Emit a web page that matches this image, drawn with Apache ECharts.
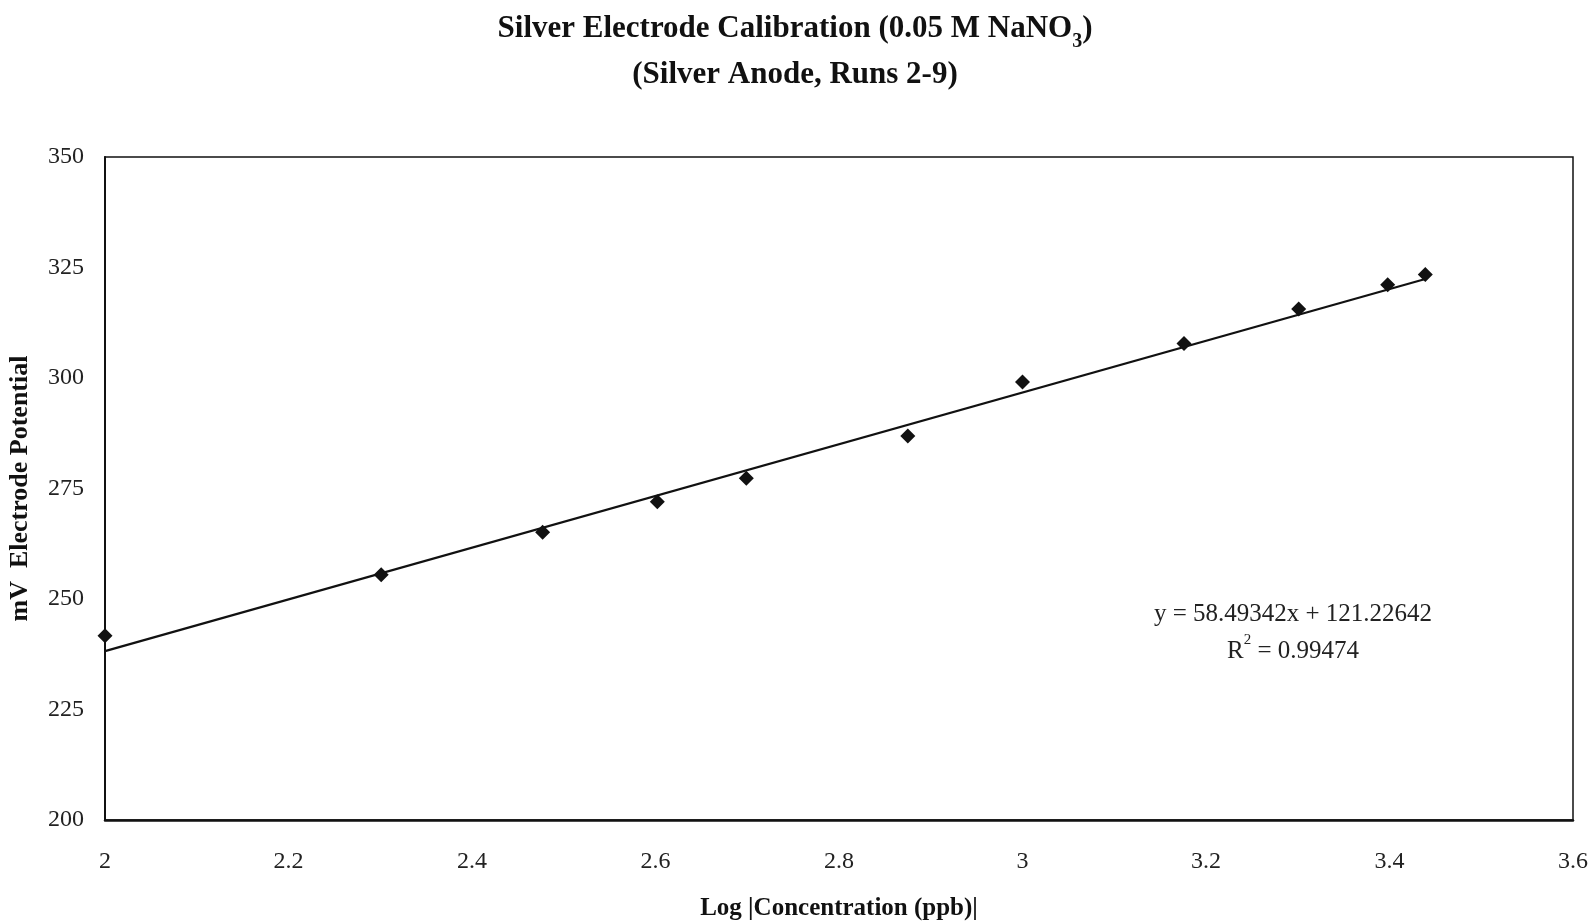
<!DOCTYPE html>
<html>
<head>
<meta charset="utf-8">
<title>Silver Electrode Calibration</title>
<script src="https://cdn.jsdelivr.net/npm/echarts@6/dist/echarts.min.js"></script>
<style>
  html, body { margin: 0; padding: 0; background: #fff; }
  #chart { width: 1590px; height: 924px; }
</style>
</head>
<body>
<div id="chart"></div>
<script>
// Log of concentration (ppb) for each calibration standard
const logConcentration = [2.0, 2.301, 2.477, 2.602, 2.699, 2.875, 3.0, 3.176, 3.301, 3.398, 3.439];
// Measured electrode potential (mV)
const potentialMv = [241.7, 255.5, 265.1, 272.0, 277.3, 286.9, 299.1, 307.8, 315.6, 321.1, 323.4];
// Least-squares fit reported on the chart
const fitSlope = 58.49342;
const fitIntercept = 121.22642;
const fitR2 = 0.99474;
// Axis tick values
const xTicks = [2, 2.2, 2.4, 2.6, 2.8, 3, 3.2, 3.4, 3.6];
const yTicks = [200, 225, 250, 275, 300, 325, 350];

const points = logConcentration.map((x, i) => [x, potentialMv[i]]);
const xFirst = logConcentration[0];
const xLast = logConcentration[logConcentration.length - 1];
const fitLine = [
  [xFirst, fitSlope * xFirst + fitIntercept],
  [xLast, fitSlope * xLast + fitIntercept]
];

const serif = '"Liberation Serif", "DejaVu Serif", serif';
const chart = echarts.init(document.getElementById('chart'));

chart.setOption({
  backgroundColor: '#fff',
  animation: false,
  title: {
    text: 'Silver Electrode Calibration (0.05 M NaNO{sub|3})\n(Silver Anode, Runs 2-9)',
    left: 'center',
    top: 1,
    textStyle: {
      fontFamily: serif,
      fontSize: 31,
      fontWeight: 'bold',
      color: '#111',
      lineHeight: 46,
      rich: {
        sub: { fontFamily: serif, fontSize: 20, fontWeight: 'bold', color: '#111', verticalAlign: 'bottom', padding: [10, 0, 0, 0] }
      }
    }
  },
  grid: {
    left: 105,
    right: 17,
    top: 157,
    bottom: 104,
    outerBoundsMode: 'none',
    containLabel: false,
    show: true,
    borderColor: '#111',
    borderWidth: 1.5,
    backgroundColor: '#fff'
  },
  xAxis: {
    type: 'value',
    min: 2,
    max: 3.6,
    interval: 0.2,
    name: 'Log |Concentration (ppb)|',
    nameLocation: 'middle',
    nameGap: 76,
    nameTextStyle: { fontFamily: serif, fontSize: 25, fontWeight: 'bold', color: '#111' },
    axisLine: { show: true, lineStyle: { color: '#111', width: 2.5 } },
    axisTick: { show: false },
    splitLine: { show: false },
    axisLabel: {
      fontFamily: serif,
      fontSize: 24,
      color: '#222',
      margin: 30,
      formatter: v => {
        const t = xTicks.find(k => Math.abs(k - v) < 1e-6);
        return t === undefined ? '' : String(t);
      }
    }
  },
  yAxis: {
    type: 'value',
    min: 200,
    max: 350,
    interval: 25,
    name: 'mV  Electrode Potential',
    nameLocation: 'middle',
    nameGap: 72,
    nameTextStyle: { fontFamily: serif, fontSize: 26, fontWeight: 'bold', color: '#111' },
    axisLine: { show: true, lineStyle: { color: '#111', width: 2 } },
    axisTick: { show: false },
    splitLine: { show: false },
    axisLabel: {
      fontFamily: serif,
      fontSize: 24,
      color: '#222',
      margin: 21,
      formatter: v => {
        const t = yTicks.find(k => Math.abs(k - v) < 1e-6);
        return t === undefined ? '' : String(t);
      }
    }
  },
  series: [
    {
      name: 'Linear fit',
      type: 'line',
      data: fitLine,
      symbol: 'none',
      lineStyle: { color: '#111', width: 2.2 },
      z: 2
    },
    {
      name: 'Potential',
      type: 'scatter',
      data: points,
      symbol: 'diamond',
      symbolSize: 15,
      itemStyle: { color: '#111', opacity: 1 },
      z: 3
    }
  ],
  graphic: [
    {
      type: 'text',
      x: 1293,
      y: 596,
      style: {
        text: 'y = ' + fitSlope.toFixed(5) + 'x + ' + fitIntercept.toFixed(5) + '\n' +
              '{r|R}{sup|2}{r| = ' + fitR2.toFixed(5) + '}',
        align: 'center',
        verticalAlign: 'top',
        font: '25px ' + serif,
        fill: '#222',
        lineHeight: 37,
        rich: {
          r: { fontFamily: serif, fontSize: 25, fill: '#222' },
          sup: { fontFamily: serif, fontSize: 15, fill: '#222', verticalAlign: 'top', padding: [0, 0, 12, 0] }
        }
      }
    }
  ]
});
</script>
</body>
</html>
